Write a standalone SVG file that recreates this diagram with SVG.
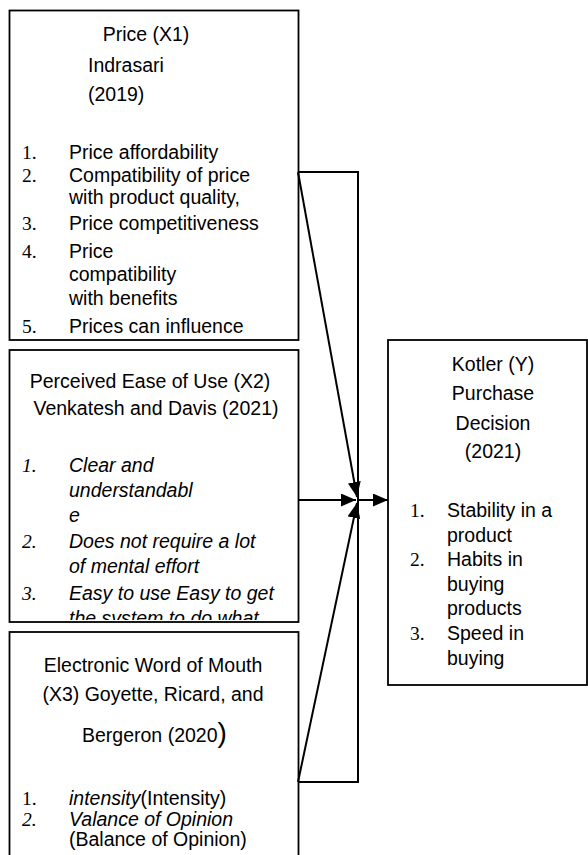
<svg xmlns="http://www.w3.org/2000/svg" width="588" height="855" viewBox="0 0 588 855">
<style>
.box{fill:#fff;stroke:#000;stroke-width:1.8}
.t{font-family:"Liberation Sans",Arial,sans-serif;font-size:19.5px;fill:#000}
.n{font-family:"Liberation Serif","Times New Roman",serif;font-size:19.5px;fill:#000}
.c{text-anchor:middle}
.i{font-style:italic}
.ln{stroke:#000;stroke-width:2;fill:none}
</style>
<defs>
<marker id="ah" viewBox="0 0 15 13" refX="15" refY="6.5" markerWidth="15" markerHeight="13" markerUnits="userSpaceOnUse" orient="auto">
<path d="M0,0 L15,6.5 L0,13 Z" fill="#000"/>
</marker>
<clipPath id="cb2"><rect x="9" y="350" width="290" height="270"/></clipPath>
</defs>
<rect width="588" height="855" fill="#fff"/>

<g id="x1">
<rect class="box" x="9.5" y="10.5" width="289" height="329.5"/>
<text class="t c" x="146" y="41">Price (X1)</text>
<text class="t" x="88" y="72">Indrasari</text>
<text class="t" x="88" y="101">(2019)</text>
<text class="n" x="22" y="159">1.</text><text class="t" x="69" y="159">Price affordability</text>
<text class="n" x="22" y="182">2.</text><text class="t" x="69" y="182">Compatibility of price</text>
<text class="t" x="69" y="204">with product quality,</text>
<text class="n" x="22" y="230">3.</text><text class="t" x="69" y="230">Price competitiveness</text>
<text class="n" x="22" y="258">4.</text><text class="t" x="69" y="258">Price</text>
<text class="t" x="69" y="281">compatibility</text>
<text class="t" x="69" y="305">with benefits</text>
<text class="n" x="22" y="333">5.</text><text class="t" x="69" y="333">Prices can influence</text>
</g>

<g id="x2">
<rect class="box" x="9.5" y="350" width="289" height="272"/>
<g clip-path="url(#cb2)">
<text class="t c" x="150" y="388">Perceived Ease of Use (X2)</text>
<text class="t c" x="156" y="415">Venkatesh and Davis (2021)</text>
<text class="n i" x="22" y="472">1.</text><text class="t i" x="69" y="472">Clear and</text>
<text class="t i" x="69" y="497">understandabl</text>
<text class="t i" x="69" y="522">e</text>
<text class="n i" x="22" y="548">2.</text><text class="t i" x="69" y="548">Does not require a lot</text>
<text class="t i" x="69" y="573">of mental effort</text>
<text class="n i" x="22" y="600">3.</text><text class="t i" x="69" y="600">Easy to use Easy to get</text>
<text class="t i" x="69" y="625">the system to do what</text>
</g>
</g>

<g id="x3">
<rect class="box" x="9.5" y="632" width="289" height="240"/>
<text class="t c" x="153" y="672">Electronic Word of Mouth</text>
<text class="t c" x="153" y="701">(X3) Goyette, Ricard, and</text>
<text class="t" x="82" y="742">Bergeron (2020<tspan font-size="28">)</tspan></text>
<text class="n" x="22" y="805">1.</text><text class="t" x="69" y="805"><tspan class="i">intensity</tspan>(Intensity)</text>
<text class="n i" x="22" y="826">2.</text><text class="t i" x="69" y="826">Valance of Opinion</text>
<text class="t" x="69" y="846">(Balance of Opinion)</text>
</g>

<g id="y">
<rect class="box" x="388" y="340" width="199" height="345"/>
<text class="t c" x="493" y="371">Kotler (Y)</text>
<text class="t c" x="493" y="400">Purchase</text>
<text class="t c" x="493" y="430">Decision</text>
<text class="t c" x="493" y="458">(2021)</text>
<text class="n" x="410" y="517">1.</text><text class="t" x="447" y="517">Stability in a</text>
<text class="t" x="447" y="542">product</text>
<text class="n" x="410" y="566">2.</text><text class="t" x="447" y="566">Habits in</text>
<text class="t" x="447" y="591">buying</text>
<text class="t" x="447" y="615">products</text>
<text class="n" x="410" y="640">3.</text><text class="t" x="447" y="640">Speed in</text>
<text class="t" x="447" y="665">buying</text>
</g>

<g id="connectors">
<polyline class="ln" points="298,172 358,172 358,782 298,782"/>
<line class="ln" x1="298" y1="172" x2="357" y2="497" marker-end="url(#ah)"/>
<line class="ln" x1="298" y1="500" x2="356" y2="500" marker-end="url(#ah)"/>
<line class="ln" x1="358" y1="500" x2="388" y2="500" marker-end="url(#ah)"/>
<line class="ln" x1="298" y1="782" x2="357" y2="503" marker-end="url(#ah)"/>
</g>
</svg>
